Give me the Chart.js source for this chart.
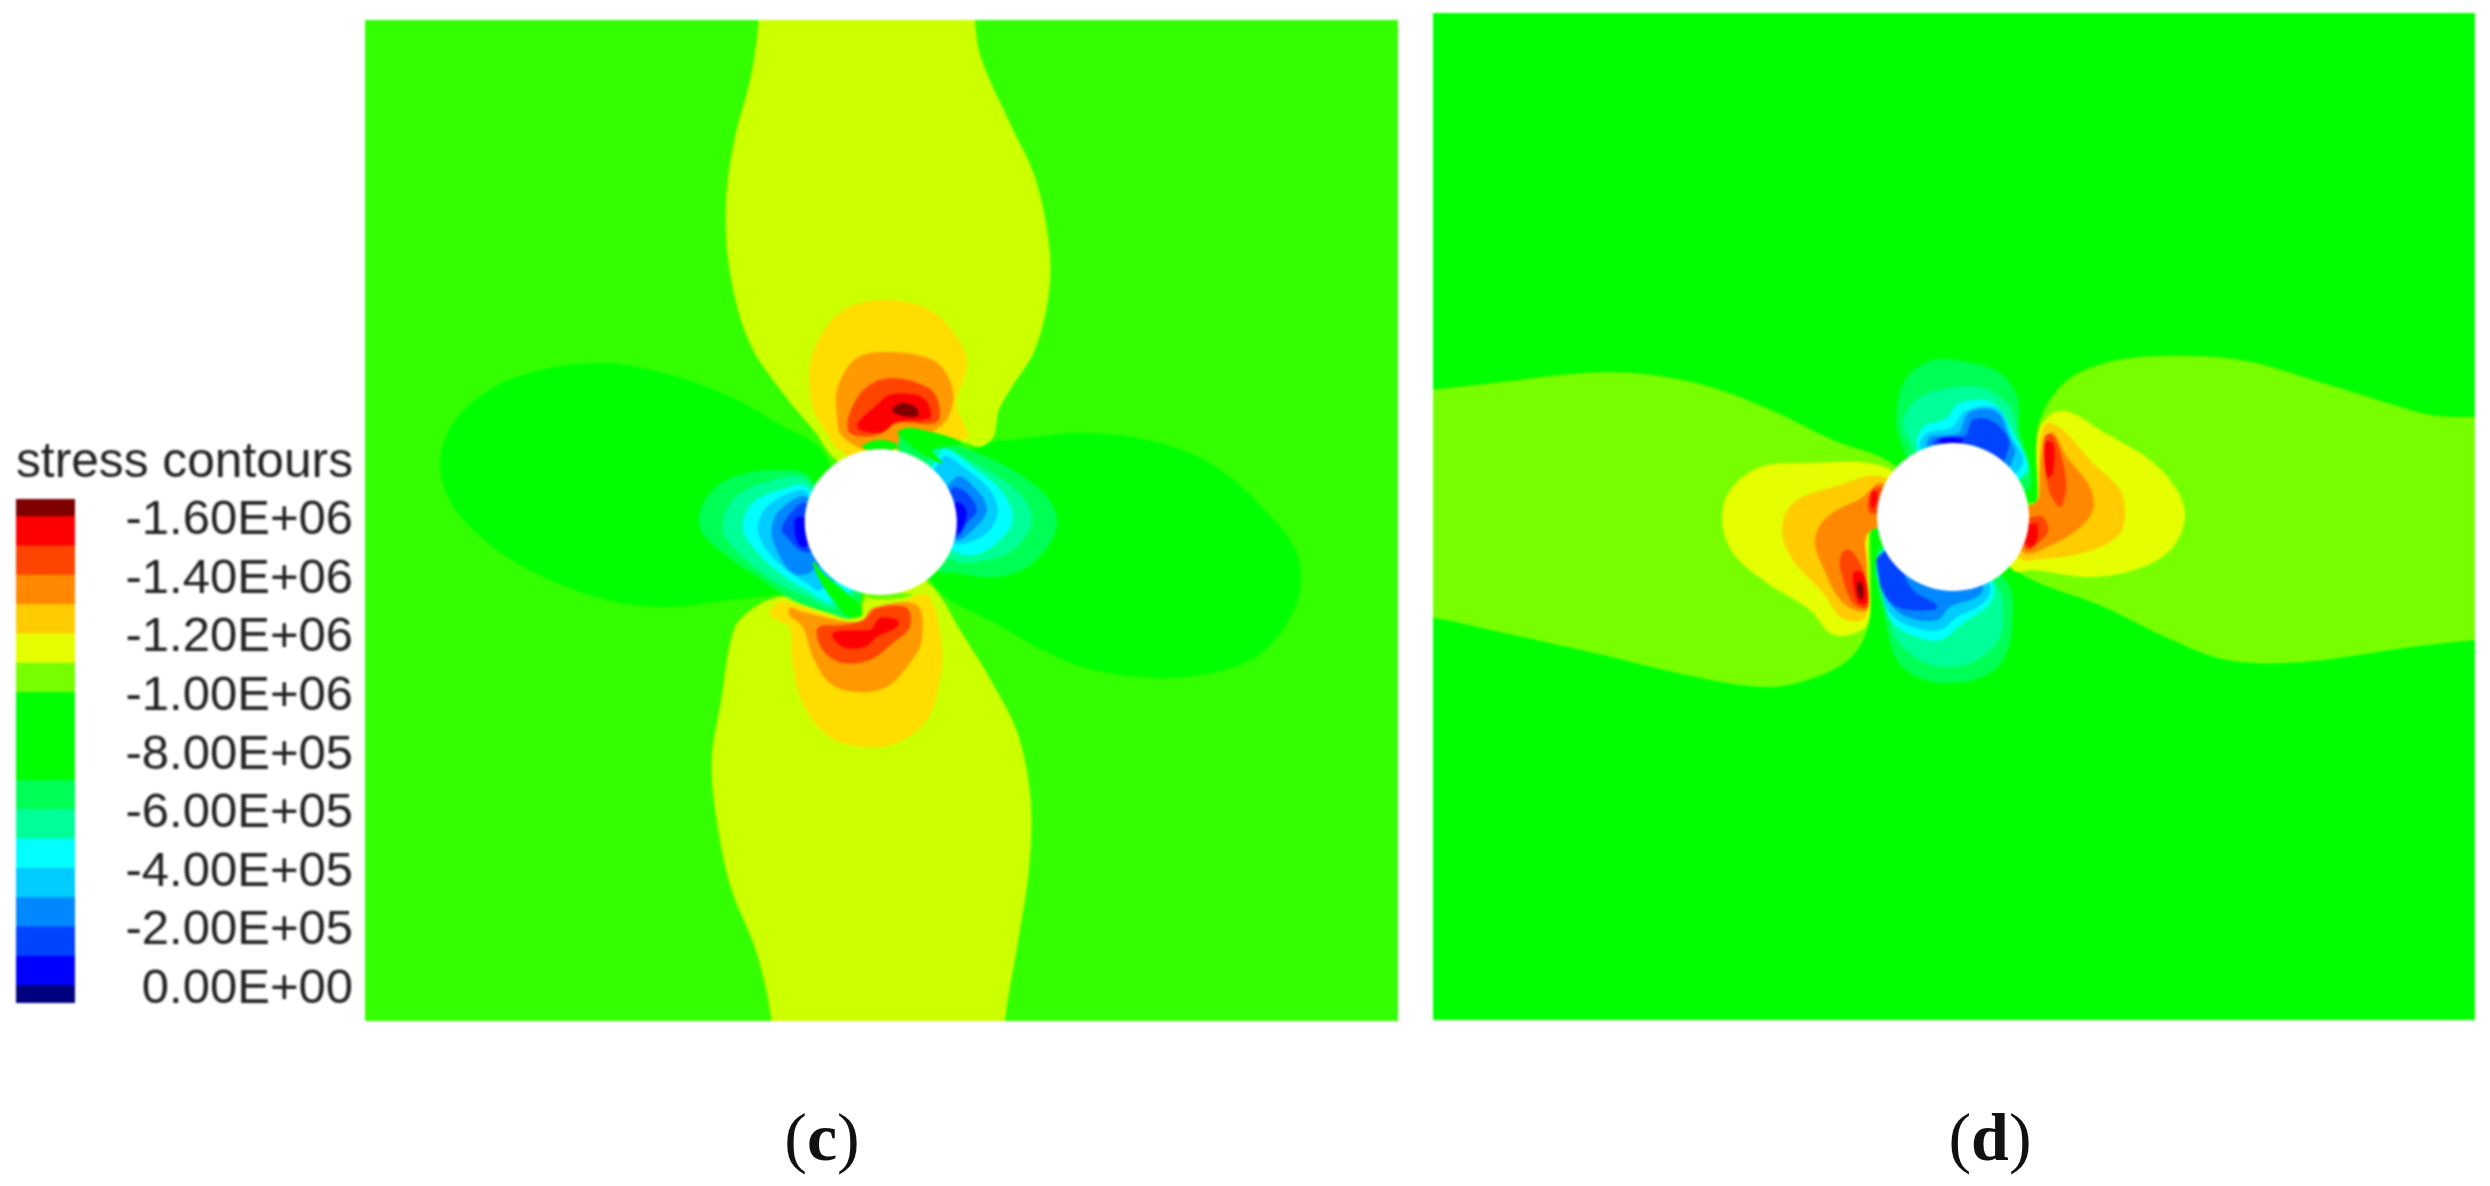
<!DOCTYPE html>
<html>
<head>
<meta charset="utf-8">
<title>stress contours</title>
<script src="https://cdn.jsdelivr.net/npm/chart.js@4"></script>
<style>
  html, body { margin: 0; background: #fff; }
  body { width: 2490px; height: 1186px; position: relative; overflow: hidden; }
  canvas { position: absolute; }
  #panelC { left: 365px; top: 20px; filter: blur(1.2px); }
  #panelD { left: 1433px; top: 13px; filter: blur(1.2px); }
  #legendBar { left: 0; top: 430px; filter: blur(1px); }
  .caption { position: absolute; top: 1098px; transform: translateX(-50%); font: 68px "Liberation Serif", serif; color: #111; filter: blur(.6px); }
  .caption b { font-weight: bold; }
</style>
</head>
<body>
<canvas id="legendBar" width="358" height="590"></canvas>
<canvas id="panelC" width="1033" height="1001"></canvas>
<canvas id="panelD" width="1042" height="1007"></canvas>
<div class="caption" style="left:822px">(<b>c</b>)</div>
<div class="caption" style="left:1990px">(<b>d</b>)</div>

<script>
// colour bar
const legendTitle = 'stress contours';
const legendLevels = [60000, 0, -100000, -200000, -300000, -400000, -500000, -600000, -700000, -1000000,
                      -1100000, -1200000, -1300000, -1400000, -1500000, -1600000, -1660000];
const legendColors = ['#00007f', '#0000ff', '#0044ff', '#0088ff', '#00ccff', '#00ffff', '#00ff99', '#00ff55', '#00ff00',
                      '#77ff00', '#e6ff00', '#ffcc00', '#ff8800', '#ff4400', '#ff0000', '#7f0000'];
const legendTicks = [0, -200000, -400000, -600000, -800000, -1000000, -1200000, -1400000, -1600000];
const legendTickLabels = ['0.00E+00', '-2.00E+05', '-4.00E+05', '-6.00E+05', '-8.00E+05', '-1.00E+06', '-1.20E+06', '-1.40E+06', '-1.60E+06'];

const cRange = { xMin: -515.5, xMax: 517, yMin: -502, yMax: 499 };
const dRange = { xMin: -520, xMax: 522, yMin: -504, yMax: 503 };

// panel (c)
const cLobeLeft = [[-40,0],[-60,70],[-104,73],[-150,78],[-217,85],[-284,75],[-364,41],[-417,-2],[-438,-40],[-438,-75],[-417,-112],[-364,-145],[-284,-159],[-217,-149],[-150,-125],[-104,-99],[-57,-69]];
const cLobeRight = [[40,0],[90,-72],[148,-84],[207,-89],[280,-79],[340,-52],[393,-2],[413,25],[420,50],[416,80],[400,110],[375,135],[335,150],[280,156],[213,148],[168,131],[114,101],[55,65]];
const cYellowTop = [[-10,-40],[50,-60],[82,-79],[99,-75],[112,-84],[116,-100],[118,-112],[131,-135],[154,-172],[168,-229],[168,-279],[154,-345],[131,-395],[101,-462],[94,-502],[94,-540],[-122,-540],[-122,-502],[-130,-445],[-147,-379],[-155,-312],[-150,-245],[-131,-179],[-98,-129],[-65,-89],[-48,-65]];
const cYellowBottom = [[0,40],[48,61],[81,111],[114,165],[138,215],[150,281],[148,348],[138,415],[124,500],[124,540],[-109,540],[-109,500],[-124,431],[-150,365],[-164,298],[-169,238],[-160,181],[-147,108],[-130,88],[-104,75],[-84,76],[-60,85],[-21,91]];
const cGoldTop = [[6,-222],[-34,-214],[-61,-185],[-71,-152],[-68,-115],[-54,-89],[-41,-72],[0,-50],[60,-70],[86,-85],[92,-77],[84,-95],[76,-119],[86,-159],[76,-185],[49,-212]];
const cOrangeTop = [[9,-170],[-24,-164],[-43,-135],[-44,-109],[-38,-85],[0,-70],[59,-95],[72,-119],[69,-142],[52,-162]];
const cRedOrangeTop = [[12,-144],[-14,-135],[-31,-109],[-31,-89],[-4,-87],[16,-99],[56,-100],[57,-122],[46,-135]];
const cRedTop = [[9,-127],[-4,-117],[-23,-99],[-21,-92],[2,-90],[16,-100],[49,-104],[47,-119],[36,-127]];
const cDarkRedTop = [[19,-119],[12,-110],[36,-105],[36,-114]];
const cGoldBottom = [[-111,91],[-101,80],[-84,83],[-21,100],[32,75],[49,75],[61,125],[59,158],[46,198],[16,221],[-14,225],[-51,215],[-78,181],[-89,135],[-91,105],[-104,98]];
const cOrangeBottom = [[-91,86],[-78,90],[-21,100],[-8,86],[36,83],[41,118],[29,141],[6,165],[-24,170],[-51,161],[-68,135],[-78,105],[-91,93]];
const cRedOrangeBottom = [[-63,106],[-38,103],[-18,98],[-4,86],[26,86],[29,105],[12,121],[-11,138],[-38,141],[-58,128]];
const cRedBottom = [[-48,111],[-11,108],[-1,96],[17,98],[16,105],[-4,115],[-16,125],[-38,125]];
const cBlueLeft1 = [[-20,50],[-71,-45],[-104,-52],[-148,-45],[-174,-25],[-181,5],[-158,31],[-118,58],[-88,78],[-51,91],[-28,95]];
const cBlueLeft2 = [[-20,50],[-74,-42],[-118,-39],[-148,-22],[-158,5],[-148,25],[-108,58],[-74,75],[-44,86]];
const cBlueLeft3 = [[-20,50],[-74,-35],[-101,-32],[-128,-19],[-138,5],[-128,25],[-101,51],[-74,68],[-48,80]];
const cBlueLeft4 = [[-30,40],[-74,-30],[-91,-29],[-114,-15],[-123,6],[-114,28],[-94,48],[-74,61],[-61,68]];
const cBlueLeft5 = [[-40,20],[-74,-25],[-101,-12],[-109,8],[-104,28],[-88,51],[-70,50]];
const cBlueLeft6 = [[-50,10],[-76,-19],[-93,-5],[-99,8],[-94,15],[-81,28],[-70,30]];
const cBlueLeft7 = [[-60,10],[-78,-5],[-86,-2],[-83,21],[-76,25]];
const cBlueRight1 = [[20,0],[19,-90],[32,-92],[82,-75],[132,-52],[166,-25],[176,5],[152,41],[116,55],[76,51],[56,48]];
const cBlueRight2 = [[40,0],[52,-75],[82,-65],[112,-49],[142,-25],[151,1],[132,28],[106,38],[72,38]];
const cBlueRight3 = [[40,0],[62,-72],[96,-52],[122,-29],[132,-2],[116,21],[92,33],[71,28]];
const cBlueRight4 = [[40,0],[62,-65],[86,-52],[109,-32],[117,-9],[106,11],[86,21],[72,21]];
const cBlueRight5 = [[50,0],[76,-45],[96,-32],[106,-12],[92,8],[76,18]];
const cBlueRight6 = [[50,0],[72,-34],[86,-29],[96,-12],[86,1],[76,15]];
const cBlueRight7 = [[60,0],[77,-20],[86,-9],[77,11]];
const cStreakTop = [[17,-90],[32,-94],[82,-79],[52,-72],[62,-59],[46,-65],[26,-80]];
const cStreakBottom = [[-66,40],[-61,48],[-21,83],[-19,93],[-31,95],[-48,78],[-61,58],[-68,41]];
const cCapTop = [[-19,-75],[-4,-82],[12,-80],[17,-75],[0,-70]];
const cCapBottom = [[-18,75],[10,77],[32,73],[0,70]];
const cHole = [[76,0],[66,36],[38,63],[0,73],[-38,63],[-66,36],[-76,0],[-66,-36],[-38,-63],[0,-73],[38,-63],[66,-36]];

// panel (d)
const dBandLeft = [[-20,0],[-76,5],[-82,12],[-82,60],[-85,110],[-105,143],[-146,163],[-189,170],[-257,160],[-359,136],[-462,113],[-525,100],[-560,100],[-560,-127],[-525,-127],[-460,-134],[-344,-145],[-257,-134],[-189,-110],[-120,-77],[-59,-52]];
const dBandRight = [[20,0],[77,-14],[84,-17],[85,-90],[111,-134],[152,-154],[206,-161],[288,-157],[370,-134],[458,-107],[485,-101],[525,-100],[560,-100],[560,123],[525,123],[458,130],[349,145],[274,143],[219,123],[151,90],[62,53]];
const dYellowLeft = [[-66,-49],[-153,-54],[-193,-50],[-223,-27],[-231,3],[-220,36],[-186,66],[-143,93],[-123,116],[-103,118],[-85,106],[-84,60],[-84,15],[-78,5],[-30,0]];
const dGoldLeft = [[-70,-40],[-120,-30],[-160,-14],[-171,13],[-160,43],[-130,76],[-111,101],[-88,101],[-86,60],[-84,15],[-30,0]];
const dOrangeLeft = [[-71,-34],[-90,-20],[-126,0],[-138,23],[-130,50],[-110,86],[-86,93],[-86,50],[-84,15],[-30,0]];
const dRedOrangeLeft = [[-111,36],[-103,33],[-90,53],[-85,90],[-100,86],[-113,50]];
const dRedOrangeLeftUp = [[-73,-30],[-83,-24],[-83,-4],[-60,-10]];
const dRedLeft = [[-100,56],[-90,56],[-86,86],[-95,85]];
const dRedLeftUp = [[-81,-25],[-76,-25],[-78,-10],[-82,-10]];
const dDarkRedLeft = [[-96,66],[-91,66],[-90,81],[-94,81]];
const dYellowRight = [[85,-85],[100,-104],[117,-105],[147,-87],[197,-57],[224,-27],[232,0],[220,30],[190,50],[140,60],[80,53],[60,53],[30,0],[78,-12],[85,-20]];
const dGoldRight = [[87,-77],[94,-94],[110,-87],[140,-54],[167,-27],[172,0],[164,20],[130,36],[80,43],[69,43],[30,0],[78,-12],[86,-20]];
const dOrangeRight = [[90,-77],[100,-84],[114,-60],[137,-30],[140,-7],[124,13],[94,30],[72,36],[30,0],[78,-12],[86,-20]];
const dRedOrangeRight = [[92,-80],[100,-82],[110,-54],[113,-27],[107,-10],[95,-30]];
const dRedOrangeRightLow = [[80,0],[90,0],[95,15],[80,30],[75,33],[50,10]];
const dRedRight = [[92,-74],[100,-74],[100,-44],[94,-40]];
const dRedRightLow = [[79,10],[84,6],[84,23],[77,30],[60,10]];
const dTopBlue1 = [[-20,-157],[-46,-140],[-56,-110],[-53,-77],[-30,-40],[40,-30],[75,-27],[77,-50],[67,-84],[64,-120],[47,-144],[14,-155]];
const dTopBlue2 = [[-3,-129],[-33,-120],[-50,-97],[-43,-74],[-20,-40],[40,-30],[75,-44],[64,-84],[57,-110],[30,-129]];
const dTopBlue3 = [[7,-114],[-6,-99],[-30,-90],[-36,-70],[-20,-40],[40,-30],[74,-47],[60,-84],[40,-114]];
const dTopBlue4 = [[14,-107],[0,-90],[-26,-84],[-33,-72],[-20,-40],[40,-30],[70,-54],[59,-80],[44,-109]];
const dTopBlue5 = [[17,-105],[7,-85],[-23,-80],[-26,-74],[-20,-40],[40,-30],[62,-64],[57,-77],[44,-105]];
const dTopBlue6 = [[20,-97],[14,-82],[-13,-79],[-20,-74],[0,-40],[40,-40],[55,-67],[55,-80],[37,-97]];
const dTopBlue7 = [[-15,-77],[0,-80],[10,-77],[0,-70]];
const dBottomBlue1 = [[-76,36],[-65,116],[-56,143],[-36,160],[-6,166],[30,160],[50,143],[59,110],[55,66],[20,40],[-40,20]];
const dBottomBlue2 = [[-75,40],[-66,93],[-56,123],[-33,143],[-6,150],[24,143],[47,120],[50,86],[45,70],[20,40],[-40,20]];
const dBottomBlue3 = [[-75,40],[-71,76],[-60,106],[-36,120],[-13,123],[10,106],[37,86],[40,66],[20,40],[-40,20]];
const dBottomBlue4 = [[-75,40],[-73,66],[-63,96],[-40,110],[-13,113],[4,100],[30,86],[37,70],[20,40],[-40,20]];
const dBottomBlue5 = [[-75,40],[-75,56],[-63,86],[-46,100],[-16,103],[-3,90],[24,80],[30,71],[20,40],[-40,20]];
const dBottomBlue6 = [[-75,40],[-75,50],[-71,73],[-56,90],[-20,93],[-16,88],[-40,73],[-50,50],[-40,20]];
const dHole = [[76,0],[66,37],[38,64],[0,74],[-38,64],[-66,37],[-76,0],[-66,-37],[-38,-64],[0,-74],[38,-64],[66,-37]];

// bottom to top, painted in this order
const cShapes = [
  [cLobeLeft, '#00ff00'], [cLobeRight, '#00ff00'],
  [cYellowTop, '#ccff00'], [cYellowBottom, '#ccff00'],
  [cGoldTop, '#ffdd00'], [cOrangeTop, '#ff9900'], [cRedOrangeTop, '#ff4400'], [cRedTop, '#ff0000'], [cDarkRedTop, '#800000'],
  [cGoldBottom, '#ffdd00'], [cOrangeBottom, '#ff9900'], [cRedOrangeBottom, '#ff4400'], [cRedBottom, '#ff0000'],
  [cBlueLeft1, '#00ff55'], [cBlueLeft2, '#00ff99'], [cBlueLeft3, '#00ffff'], [cBlueLeft4, '#00ccff'], [cBlueLeft5, '#0088ff'], [cBlueLeft6, '#0044ff'], [cBlueLeft7, '#0000ff'],
  [cBlueRight1, '#00ff55'], [cBlueRight2, '#00ff99'], [cBlueRight3, '#00ffff'], [cBlueRight4, '#00ccff'], [cBlueRight5, '#0088ff'], [cBlueRight6, '#0044ff'], [cBlueRight7, '#0000ff'],
  [cStreakTop, '#00ff00'], [cStreakBottom, '#00ff00'], [cCapTop, '#00ff00'], [cCapBottom, '#66ff00'],
  [cHole, '#ffffff']
];
const dShapes = [
  [dBandLeft, '#77ff00'], [dBandRight, '#77ff00'],
  [dYellowLeft, '#e6ff00'], [dGoldLeft, '#ffcc00'], [dOrangeLeft, '#ff8800'], [dRedOrangeLeft, '#ff4400'], [dRedOrangeLeftUp, '#ff4400'], [dRedLeft, '#ff0000'], [dRedLeftUp, '#ff0000'], [dDarkRedLeft, '#800000'],
  [dYellowRight, '#e6ff00'], [dGoldRight, '#ffcc00'], [dOrangeRight, '#ff8800'], [dRedOrangeRight, '#ff4400'], [dRedOrangeRightLow, '#ff4400'], [dRedRight, '#ff0000'], [dRedRightLow, '#ff0000'],
  [dTopBlue1, '#00ff55'], [dTopBlue2, '#00ff99'], [dTopBlue3, '#00ffff'], [dTopBlue4, '#00ccff'], [dTopBlue5, '#0088ff'], [dTopBlue6, '#0044ff'], [dTopBlue7, '#0000ff'],
  [dBottomBlue1, '#00ff55'], [dBottomBlue2, '#00ff99'], [dBottomBlue3, '#00ffff'], [dBottomBlue4, '#00ccff'], [dBottomBlue5, '#0088ff'], [dBottomBlue6, '#0044ff'],
  [dHole, '#ffffff']
];

// fills the plot area with the far-field colour of the panel
const panelBackground = {
  id: 'panelBackground',
  beforeDraw(chart, args, opts) {
    const a = chart.chartArea;
    chart.ctx.fillStyle = opts.color;
    chart.ctx.fillRect(a.left, a.top, a.width, a.height);
  }
};

function contourChart(id, shapes, range, background) {
  const datasets = shapes.map(([pts, color], i) => ({
    // wrap round the closing point so the curve stays smooth there
    data: [pts[pts.length - 1], ...pts, pts[0], pts[1]].map(([x, y]) => ({ x, y })),
    backgroundColor: color,
    borderWidth: 0,
    pointRadius: 0,
    showLine: true,
    fill: 'shape',
    tension: 0.35,
    order: shapes.length - i
  }));
  return new Chart(document.getElementById(id), {
    type: 'scatter',
    data: { datasets },
    plugins: [panelBackground],
    options: {
      responsive: false,
      animation: false,
      events: [],
      layout: { padding: 0 },
      plugins: {
        legend: { display: false },
        tooltip: { enabled: false },
        panelBackground: { color: background }
      },
      scales: {
        x: { type: 'linear', display: false, min: range.xMin, max: range.xMax },
        y: { type: 'linear', display: false, reverse: true, min: range.yMin, max: range.yMax }
      }
    }
  });
}

contourChart('panelC', cShapes, cRange, '#33ff00');
contourChart('panelD', dShapes, dRange, '#00ff00');

new Chart(document.getElementById('legendBar'), {
  type: 'bar',
  data: {
    labels: [legendTitle],
    datasets: legendColors.map((color, i) => ({
      data: [[legendLevels[i + 1], legendLevels[i]]],
      backgroundColor: color,
      grouped: false,
      barPercentage: 1,
      categoryPercentage: 1
    }))
  },
  options: {
    responsive: false,
    animation: false,
    events: [],
    layout: { padding: { left: 16, right: 5, bottom: 17 } },
    plugins: {
      legend: { display: false },
      tooltip: { enabled: false },
      title: {
        display: true,
        text: legendTitle,
        align: 'end',
        color: '#222',
        padding: { top: 3, bottom: 6.5 },
        font: { family: '"Liberation Sans", Arial, sans-serif', size: 50, weight: 'normal', lineHeight: 1.19 }
      }
    },
    scales: {
      x: { display: false },
      y: {
        position: 'right',
        reverse: true,
        min: -1660000,
        max: 60000,
        grid: { display: false, drawTicks: false },
        border: { display: false },
        afterBuildTicks: scale => { scale.ticks = legendTicks.map(value => ({ value })); },
        afterFit: scale => {
          scale.width = 278;
          // keep the bar its full height, the labels sit inside it anyway
          scale.paddingTop = 0;
          scale.paddingBottom = 0;
        },
        ticks: {
          autoSkip: false,
          padding: 46,
          labelOffset: 4,
          crossAlign: 'far',
          color: '#222',
          font: { family: '"Liberation Sans", Arial, sans-serif', size: 49 },
          callback: value => legendTickLabels[legendTicks.indexOf(value)]
        }
      }
    }
  }
});
</script>
</body>
</html>
